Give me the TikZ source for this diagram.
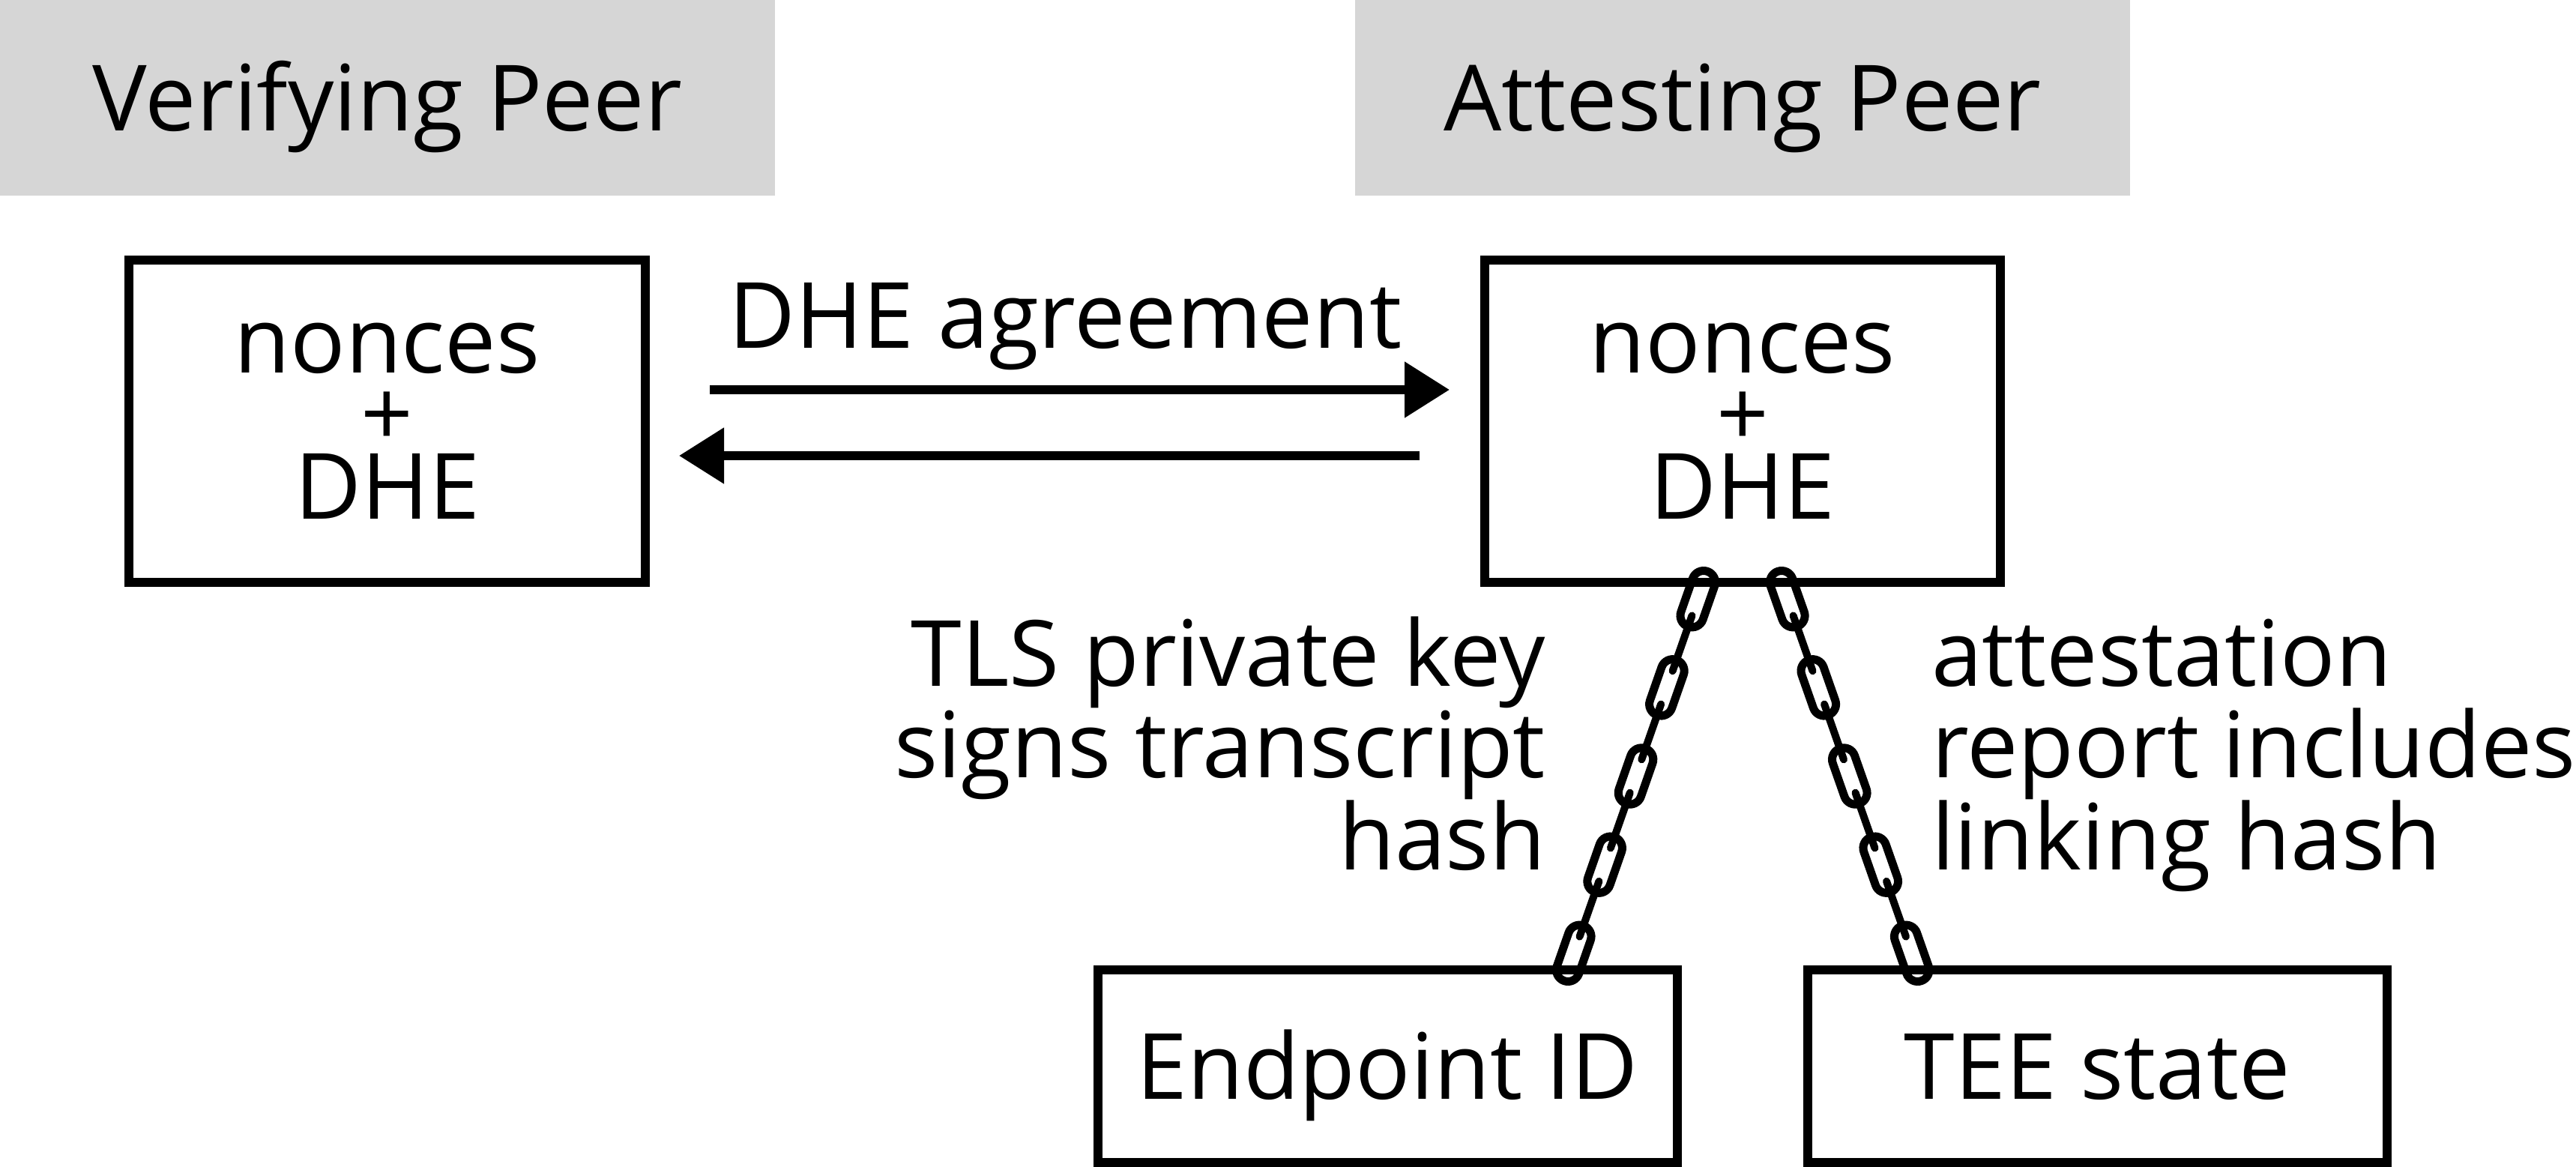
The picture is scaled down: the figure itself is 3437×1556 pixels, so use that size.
\documentclass[tikz,border=0pt]{standalone}
\usepackage{fontspec}
\setmainfont{Open Sans}
\usetikzlibrary{arrows.meta,calc}
\definecolor{headgray}{RGB}{214,214,214}

\tikzset{
  every node/.style={inner sep=0pt, outer sep=0pt, font=\fontsize{122pt}{121.5pt}\selectfont},
  header/.style={fill=headgray, minimum width=1034pt, minimum height=261pt, text height=87pt, text depth=0pt},
  peerbox/.style={draw, line width=12pt, minimum height=430pt, align=center, font=\fontsize{122pt}{97.5pt}\selectfont},
  itembox/.style={draw, line width=12pt, minimum width=773pt, minimum height=257pt, text height=87pt, text depth=0pt},
  flow/.style={line width=12pt, -{Triangle[length=60pt,width=72pt]}},
  chainlink/.style={draw, line width=11pt, minimum width=78pt, minimum height=31pt, rounded corners=15.4pt},
  chainwire/.style={line width=10pt, line cap=round},
}

% A chain of five links hung between two points
\newcommand\drawchain[2]{%
  \foreach \k in {0,...,3}{%
    \pgfmathsetmacro\tb{\k*0.22855+0.0858}%
    \pgfmathsetmacro\tc{(\k+1)*0.22855}%
    \draw[chainwire] ($(#1)!\tb!(#2)$) -- ($(#1)!\tc!(#2)$);%
  }%
  \foreach \k in {0,...,4}{%
    \pgfmathsetmacro\tm{\k*0.22855+0.0429}%
    \path (#1) -- (#2) node[chainlink, sloped, pos=\tm, name=#1-link\k] {};%
  }%
}

\begin{document}
\begin{tikzpicture}[x=1pt,y=-1pt]
\useasboundingbox (0,0) rectangle (3437,1556);

% column headers
\node[header] (vhead) at (517,130.5) {Verifying Peer};
\node[header] (ahead) at (2325,130.5) {Attesting Peer};

% peer state boxes
\node[peerbox, minimum width=689pt] (vbox) at (516.5,562) {nonces\\+\\DHE};
\node[peerbox, minimum width=688pt] (abox) at (2325,562) {nonces\\+\\DHE};

% bound items
\node[itembox] (ep) at (1851,1422.5) {Endpoint ID};
\node[itembox] (tee) at (2798.5,1422.5) {TEE state};

% key agreement messages
\draw[flow, shorten <=86pt, shorten >=47pt] ($(vbox.east)+(0,-42)$) -- ($(abox.west)+(0,-42)$);
\draw[flow, shorten <=87pt, shorten >=45pt] ($(abox.west)+(0,46)$) -- ($(vbox.east)+(0,46)$);
\node[anchor=base] (dhe) at (1421.5,464) {DHE agreement};

% chains binding the handshake to the endpoint and the TEE
\coordinate (c1a) at ($(abox.south)+(-52,0)$);
\coordinate (c1b) at ($(ep.north)+(241,0)$);
\coordinate (c2a) at ($(abox.south)+(52,0)$);
\coordinate (c2b) at ($(tee.north)+(-240,0)$);
\drawchain{c1a}{c1b}
\drawchain{c2a}{c2b}

% chain captions (anchored on the baseline of their last line)
\node[anchor=base east, align=right] (tlstext) at (2062,1160) {TLS private key\\signs transcript\\hash};
\node[anchor=base west, align=left] (atttext) at (2577,1160) {attestation\\report includes\\linking hash};
\end{tikzpicture}
\end{document}
